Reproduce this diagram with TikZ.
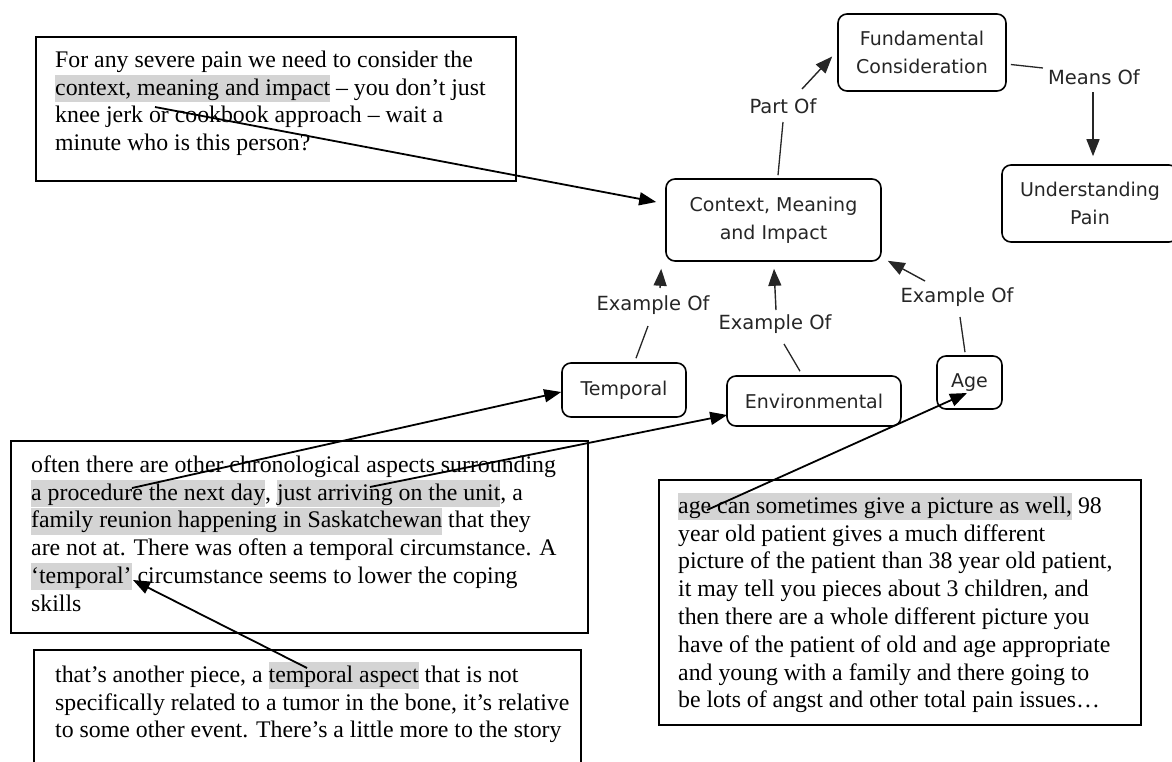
\documentclass[tikz,border=0pt]{standalone}
\usepackage{fontspec}
\setmainfont{Liberation Serif}
\newfontfamily\cmfont{DejaVu Sans}
\usetikzlibrary{arrows.meta,calc}
\definecolor{hlgray}{gray}{0.83}
\definecolor{ink}{gray}{0.15}
\newcommand{\hlt}[1]{{\setlength{\fboxsep}{0pt}\colorbox{hlgray}{\rule[-7pt]{0pt}{27pt}#1}}}
\newcommand{\fst}{\rule{0pt}{20pt}}
\tikzset{
  txtbox/.style={draw, line width=1.8pt, anchor=north west, inner sep=0pt},
  para/.style={anchor=north west, inner sep=0pt, align=left, font=\fontsize{23.8}{27.8}\selectfont},
  concept/.style={draw, line width=1.6pt, rounded corners=9pt, align=center, inner sep=0pt,
    font=\cmfont\fontsize{19}{28}\selectfont, text=ink},
  lbl/.style={inner sep=0pt, font=\cmfont\fontsize{19.5}{24}\selectfont, text=ink},
  link/.style={line width=1.3pt, draw=ink},
  arr/.style={line width=1.8pt, -{Triangle[length=17pt,width=13pt]}},
  arrc/.style={line width=1.4pt, draw=ink, fill=ink, -{Triangle[length=17pt,width=13pt]}},
}
\begin{document}
\begin{tikzpicture}[x=1pt,y=-1pt]
\useasboundingbox (0,0) rectangle (1172,761);

% text boxes
\node[txtbox, minimum width=480pt, minimum height=144pt] (b1) at (35,36) {};
\node[para] (t1) at (55,47) {\fst For any severe pain we need to consider the\\
\hlt{context, meaning and impact} – you don’t just\\
knee jerk or cookbook approach – wait a\\
minute who is this person?};

\node[txtbox, minimum width=577pt, minimum height=192pt] (b2) at (10,440) {};
\node[para] (t2) at (31,452) {\fst often there are other chronological aspects surrounding\\
\hlt{a procedure the next day}, \hlt{just arriving on the unit}, a\\
\hlt{family reunion happening in Saskatchewan} that they\\
are not at. There was often a temporal circumstance. A\\
\hlt{‘temporal’} circumstance seems to lower the coping\\
skills};

\node[txtbox, minimum width=547pt, minimum height=151pt] (b3) at (33,649) {};
\node[para] (t3) at (55,662) {\fst that’s another piece, a \hlt{temporal aspect} that is not\\
specifically related to a tumor in the bone, it’s relative\\
to some other event. There’s a little more to the story};

\node[txtbox, minimum width=482pt, minimum height=245pt] (b4) at (658,479) {};
\node[para] (t4) at (678,493) {\fst \hlt{age can sometimes give a picture as well,} 98\\
year old patient gives a much different\\
picture of the patient than 38 year old patient,\\
it may tell you pieces about 3 children, and\\
then there are a whole different picture you\\
have of the patient of old and age appropriate\\
and young with a family and there going to\\
be lots of angst and other total pain issues…};

% concepts
\node[concept, minimum width=168pt, minimum height=77pt] (fund) at (922,52.5) {Fundamental\\Consideration};
\node[concept, minimum width=215pt, minimum height=82pt] (cmi) at (773.5,220) {Context, Meaning\\and Impact};
\node[concept, minimum width=176pt, minimum height=77pt] (up) at (1090,203.5) {Understanding\\Pain};
\node[concept, minimum width=124pt, minimum height=54pt] (temp) at (624,390) {Temporal};
\node[concept, minimum width=174pt, minimum height=50pt] (env) at (814,401) {Environmental};
\node[concept, minimum width=65pt, minimum height=53pt] (age) at (969.5,382.5) {Age};

% link labels
\node[lbl] (partof) at (783,106) {Part Of};
\node[lbl] (meansof) at (1094,77) {Means Of};
\node[lbl] (ex1) at (653,305) {Example Of};
\node[lbl] (ex2) at (775,324) {Example Of};
\node[lbl] (ex3) at (957,297) {Example Of};

% concept links
\draw[link] ($(cmi.north)+(4.5,-3)$) -- ($(partof)+(0,16)$);
\draw[arrc] ($(partof)+(19,-17)$) -- ($(fund.west)+(-5,4)$);
\draw[link] ($(fund.east)+(4,12)$) -- ($(meansof.west)+(-5,-9)$);
\draw[arrc] ($(meansof)+(-1,15)$) -- ($(up.north)+(3,-8)$);
\draw[link] ($(temp.north)+(12,-4)$) -- ($(ex1)+(-5,21)$);
\draw[arrc] ($(ex1)+(7,-17)$) -- ($(cmi.south west)+(-4,7)$);
\draw[link] ($(env.north)+(-14,-4)$) -- ($(ex2)+(9,20)$);
\draw[arrc] ($(ex2)+(1,-14)$) -- ($(cmi.south)+(0.5,7)$);
\draw[link] ($(age.north)+(-4.5,-3)$) -- ($(ex3)+(3,20)$);
\draw[arrc] ($(ex3)+(-32,-16)$) -- ($(cmi.south east)+(6,-1)$);

% text-box connectors
\coordinate (s1) at (155,107);
\coordinate (s2a) at (132,488);
\coordinate (s2b) at (370,487);
\coordinate (s3) at (307,668);
\coordinate (s4) at (707,510);
\coordinate (e3) at (133,580);
\draw[arr] (s1) -- ($(cmi.west)+(-9,-18)$);
\draw[arr] (s2a) -- ($(temp.west)+(0,2)$);
\draw[arr] (s2b) -- ($(env.west)+(1,14)$);
\draw[arr] (s4) -- ($(age)+(-2.5,10.5)$);
\draw[arr] (s3) -- (e3);
\end{tikzpicture}
\end{document}
